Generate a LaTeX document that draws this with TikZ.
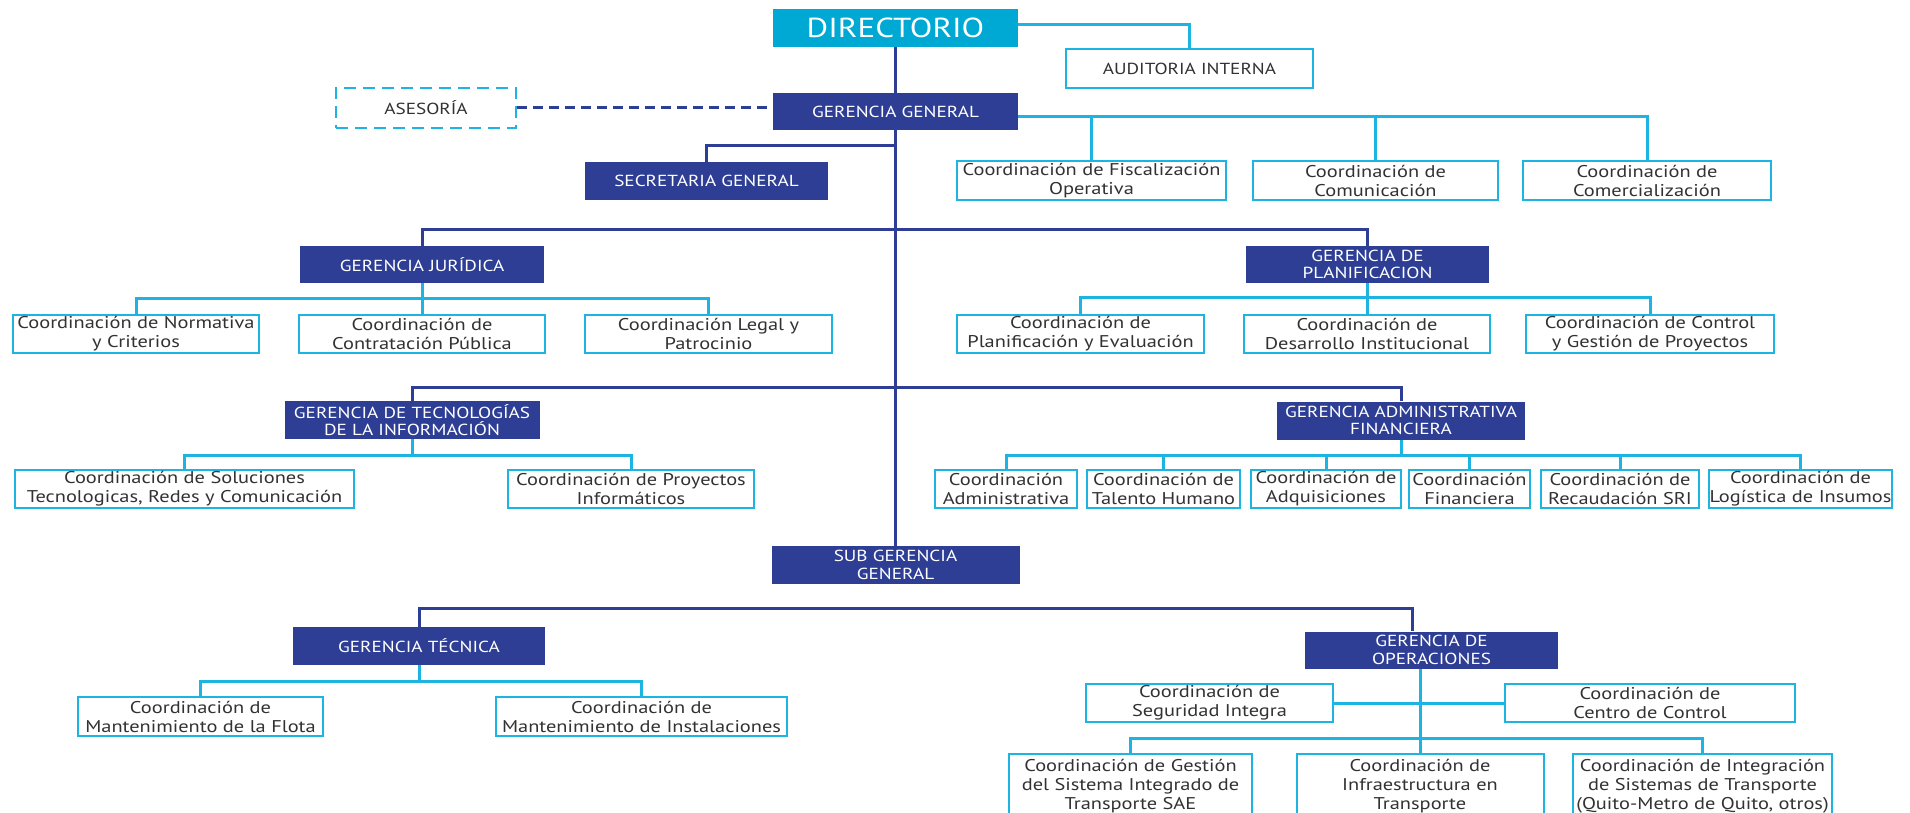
\documentclass[tikz,border=0pt]{standalone}
\usepackage{fontspec}
\setmainfont{PT Sans}[FakeStretch=1.2]
\definecolor{dblue}{RGB}{45,62,148}
\definecolor{cfill}{RGB}{0,168,212}
\definecolor{cline}{RGB}{30,180,225}
\definecolor{tgray}{RGB}{50,50,50}
\begin{document}
\begin{tikzpicture}[x=1pt,y=-1pt,
 dk/.style={fill=dblue,text=white,inner sep=0pt,align=center,font=\fontsize{16}{17.5}\selectfont},
 cb/.style={draw=cline,line width=2pt,fill=white,text=tgray,inner sep=0pt,align=center,font=\fontsize{17}{19}\selectfont},
 capt/.style={font=\fontsize{16}{17.5}\selectfont},
 dl/.style={draw=dblue,line width=3pt},
 cl/.style={draw=cline,line width=3pt},
 sz/.style 2 args={minimum width=#1pt,minimum height=#2pt},
]
\useasboundingbox (0,0) rectangle (1910,813);
\clip (0,0) rectangle (1910,813);
% top
\node[fill=cfill,text=white,inner sep=0pt,sz={245}{38},font=\fontsize{27.5}{29}\selectfont] (dir) at (895.5,28) {DIRECTORIO};
\node[cb,capt,sz={247}{39}] (aud) at (1189.5,68.5) {AUDITORIA INTERNA};
\node[dk,sz={245}{37}] (gg) at (895.5,111.5) {GERENCIA GENERAL};
\node[cb,capt,dash pattern=on 12pt off 7pt,sz={180}{40}] (ase) at (426,108) {ASESORÍA};
\node[dk,sz={243}{38}] (sg) at (706.5,181) {SECRETARIA GENERAL};
\node[cb,sz={269}{39}] (fis) at (1091.5,180.5) {Coordinación de Fiscalización\\Operativa};
\node[cb,sz={245}{39}] (com) at (1375.5,180.5) {Coordinación de\\Comunicación};
\node[cb,sz={248}{39}] (comer) at (1647,180.5) {Coordinación de\\Comercialización};
% juridica / planificacion
\node[dk,sz={244}{37}] (gj) at (422,264.5) {GERENCIA JURÍDICA};
\node[dk,sz={243}{37}] (gp) at (1367.5,264.5) {GERENCIA DE\\PLANIFICACION};
\node[cb,sz={246}{38}] (nor) at (136,334) {Coordinación de Normativa\\y Criterios};
\node[cb,sz={246}{38}] (con) at (422,334) {Coordinación de\\Contratación Pública};
\node[cb,sz={247}{38}] (leg) at (708.5,334) {Coordinación Legal y\\Patrocinio};
\node[cb,sz={247}{38}] (pla) at (1080.5,334) {Coordinación de\\Planificación y Evaluación};
\node[cb,sz={246}{38}] (des) at (1367,334) {Coordinación de\\Desarrollo Institucional};
\node[cb,sz={248}{38}] (ctl) at (1650,334) {Coordinación de Control\\y Gestión de Proyectos};
% TI / administrativa
\node[dk,sz={255}{38}] (gti) at (412,420) {GERENCIA DE TECNOLOGÍAS\\DE LA INFORMACIÓN};
\node[dk,sz={248}{38}] (gaf) at (1401,420.5) {GERENCIA ADMINISTRATIVA\\FINANCIERA};
\node[cb,sz={339}{38}] (sol) at (184.5,489) {Coordinación de Soluciones\\Tecnologicas, Redes y Comunicación};
\node[cb,sz={246}{38}] (pin) at (631,489) {Coordinación de Proyectos\\Informáticos};
\node[cb,sz={142}{38}] (adm) at (1006,489) {Coordinación\\Administrativa};
\node[cb,sz={153}{38}] (tal) at (1163.5,489) {Coordinación de\\Talento Humano};
\node[cb,sz={150}{38}] (adq) at (1326,489) {Coordinación de\\Adquisiciones};
\node[cb,sz={121}{38}] (fin) at (1469.5,489) {Coordinación\\Financiera};
\node[cb,sz={158}{38}] (rec) at (1620,489) {Coordinación de\\Recaudación SRI};
\node[cb,sz={183}{38}] (log) at (1800.5,489) {Coordinación de\\Logística de Insumos};
% sub gerencia
\node[dk,sz={248}{38}] (sgg) at (895.5,565) {SUB GERENCIA\\GENERAL};
\node[dk,sz={252}{38}] (gt) at (419,646) {GERENCIA TÉCNICA};
\node[dk,sz={253}{37}] (go) at (1431.5,650) {GERENCIA DE\\OPERACIONES};
\node[cb,sz={245}{39}] (flo) at (200.5,716.5) {Coordinación de\\Mantenimiento de la Flota};
\node[cb,sz={291}{39}] (ins) at (641.5,716.5) {Coordinación de\\Mantenimiento de Instalaciones};
\node[cb,sz={247}{38}] (seg) at (1209.5,703) {Coordinación de\\Seguridad Integra};
\node[cb,sz={290}{38}] (cc) at (1650,703) {Coordinación de\\Centro de Control};
\node[cb,sz={243}{64}] (sae) at (1130.5,786) {Coordinación de Gestión\\del Sistema Integrado de\\Transporte SAE};
\node[cb,sz={247}{64}] (inf) at (1420,786) {Coordinación de\\Infraestructura en\\Transporte};
\node[cb,sz={259}{64}] (itg) at (1702.5,786) {Coordinación de Integración\\de Sistemas de Transporte\\(Quito-Metro de Quito, otros)};
% connectors
\draw[cl] ([yshift=3pt]dir.east) -| (aud.north);
\draw[dl] (dir.south) -- (gg.north);
\draw[dl,dash pattern=on 10pt off 6pt] (ase.east) -- (ase.east -| gg.west);
\draw[cl] ([yshift=-5.5pt]gg.east) -| (fis.north);
\draw[cl] ([yshift=-5.5pt]gg.east) -| (com.north);
\draw[cl] ([yshift=-5.5pt]gg.east) -| (comer.north);
\draw[dl] (gg.south) -- (sgg.north);
\draw[dl] (gg.south |- 0,146) -| (sg.north);
\draw[dl] (gj.north) |- (gp.north |- 0,229) -- (gp.north);
\draw[cl] (gj.south) -- (gj.south |- 0,298);
\draw[cl] (nor.north) |- (leg.north |- 0,298) -- (leg.north);
\draw[cl] (con.north) -- (con.north |- 0,298);
\draw[cl] (gp.south) -- (gp.south |- 0,297);
\draw[cl] (pla.north) |- (ctl.north |- 0,297) -- (ctl.north);
\draw[cl] (des.north) -- (des.north |- 0,297);
\draw[dl] (gti.north) |- (gaf.north |- 0,387) -- (gaf.north);
\draw[cl] (gti.south) -- (gti.south |- 0,455);
\draw[cl] (sol.north) |- (pin.north |- 0,455) -- (pin.north);
\draw[cl] (gaf.south) -- (gaf.south |- 0,455);
\draw[cl] (adm.north) |- (log.north |- 0,455) -- (log.north);
\draw[cl] (tal.north) -- (tal.north |- 0,455);
\draw[cl] (adq.north) -- (adq.north |- 0,455);
\draw[cl] (fin.north) -- (fin.north |- 0,455);
\draw[cl] (rec.north) -- (rec.north |- 0,455);
\coordinate (gon) at ([xshift=-19pt]go.north);
\coordinate (gos) at ([xshift=-11pt]go.south);
\draw[dl] (gt.north) |- (gon |- 0,608) -- (gon);
\draw[cl] (gt.south) -- (gt.south |- 0,681);
\draw[cl] (flo.north) |- (ins.north |- 0,681) -- (ins.north);
\draw[cl] (gos) -- (gos |- inf.north);
\draw[cl] (seg.east) -- (cc.west);
\draw[cl] (sae.north) |- (itg.north |- 0,738) -- (itg.north);
\end{tikzpicture}
\end{document}
